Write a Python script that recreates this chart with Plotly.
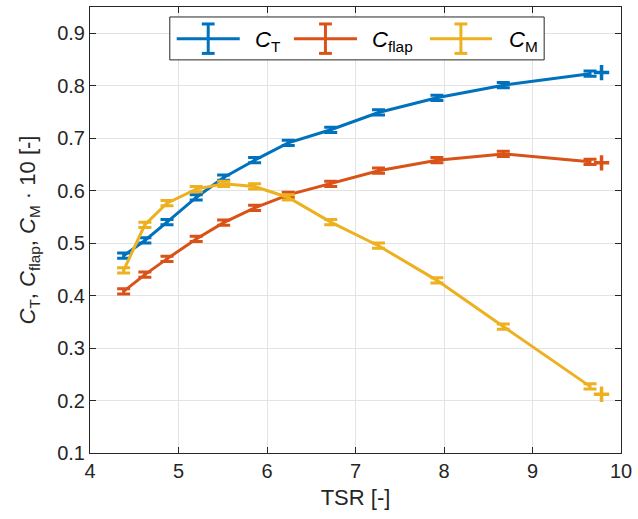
import plotly.graph_objects as go

# ---------------- data ----------------
tsr = [4.38, 4.62, 4.87, 5.20, 5.51, 5.86, 6.24, 6.72, 7.26, 7.92, 8.67, 9.65]
ct = [0.476, 0.505, 0.540, 0.587, 0.625, 0.658, 0.691, 0.716, 0.749, 0.777, 0.801, 0.823]
cflap = [0.408, 0.440, 0.470, 0.508, 0.539, 0.567, 0.592, 0.613, 0.638, 0.658, 0.670, 0.655]
cm10 = [0.448, 0.535, 0.576, 0.603, 0.613, 0.608, 0.587, 0.540, 0.495, 0.429, 0.341, 0.227]
ct_err = [0.005] * 12
cflap_err = [0.005] * 12
cm10_err = [0.005] * 12

# single extra points (+ markers)
tsr_plus = [9.78]
ct_plus = [0.825]
cflap_plus = [0.653]
cm10_plus = [0.212]

series_names = ["<i>C</i><sub>T</sub>", "<i>C</i><sub>flap</sub>", "<i>C</i><sub>M</sub>"]
colors = ["#0072BD", "#D95319", "#EDB120"]

xticks = [4, 5, 6, 7, 8, 9, 10]
yticks = [0.1, 0.2, 0.3, 0.4, 0.5, 0.6, 0.7, 0.8, 0.9]

FONT = "Liberation Sans, Arial, Helvetica, sans-serif"
TXT = "#262626"

W, H = 638, 519
L, R, T, B = 90, 9, 6, 66
pw, ph = W - L - R, H - T - B


def px(x):
    return (x - L) / pw


def py(y):
    return (H - B - y) / ph


fig = go.Figure()
for ys, err, col, yp in zip([ct, cflap, cm10], [ct_err, cflap_err, cm10_err], colors,
                            [ct_plus, cflap_plus, cm10_plus]):
    fig.add_trace(go.Scatter(
        x=tsr, y=ys, mode="lines",
        line=dict(color=col, width=3),
        error_y=dict(type="data", array=err, visible=True, color=col, thickness=3, width=6.5),
        showlegend=False, hoverinfo="x+y",
    ))
    fig.add_trace(go.Scatter(
        x=tsr_plus, y=yp, mode="markers",
        marker=dict(symbol="cross-thin", size=11, line=dict(color=col, width=3.5)),
        showlegend=False,
    ))

# ---------------- manual legend (MATLAB-style errorbar icons) ----------------
shapes = []
annotations = []
shapes.append(dict(type="rect", xref="paper", yref="paper",
                   x0=px(171), x1=px(551), y0=py(59), y1=py(16),
                   line=dict(color=TXT, width=1), fillcolor="white", layer="above"))
item_line = [(178, 242), (297, 361), (435, 498)]
item_text_x = [255, 374, 513]
yc = 37.7
for (a, b), tx, col, name in zip(item_line, item_text_x, colors, series_names):
    mid = (a + b) / 2
    shapes.append(dict(type="line", xref="paper", yref="paper", x0=px(a), x1=px(b),
                       y0=py(yc), y1=py(yc), line=dict(color=col, width=3), layer="above"))
    shapes.append(dict(type="line", xref="paper", yref="paper", x0=px(mid), x1=px(mid),
                       y0=py(23), y1=py(52.5), line=dict(color=col, width=3), layer="above"))
    for yy in (23, 52.5):
        shapes.append(dict(type="line", xref="paper", yref="paper", x0=px(mid - 6.5), x1=px(mid + 6.5),
                           y0=py(yy), y1=py(yy), line=dict(color=col, width=3), layer="above"))
    annotations.append(dict(xref="paper", yref="paper", x=px(tx), y=py(40), xanchor="left",
                            yanchor="middle", text=name, showarrow=False,
                            font=dict(family=FONT, size=22, color="black")))

axis_common = dict(
    showline=True, linecolor=TXT, linewidth=1, mirror="ticks",
    ticks="inside", ticklen=6, tickcolor=TXT, tickwidth=1,
    showgrid=True, gridcolor="#e3e3e3", gridwidth=1, zeroline=False,
    tickfont=dict(family=FONT, size=20, color=TXT),
    ticklabeloverflow="allow",
)

fig.update_layout(
    width=W, height=H,
    margin=dict(l=L, r=R, t=T, b=B),
    paper_bgcolor="white", plot_bgcolor="white",
    showlegend=False,
    shapes=shapes, annotations=annotations,
    xaxis=dict(range=[4, 10], tickvals=xticks, ticktext=[str(v) for v in xticks],
               title=dict(text="TSR [-]", font=dict(family=FONT, size=22, color=TXT), standoff=8),
               **axis_common),
    yaxis=dict(range=[0.1, 0.95], tickvals=yticks, ticktext=[f"{v:.1f}" for v in yticks],
               title=dict(text="<i>C</i><sub>T</sub>, <i>C</i><sub>flap</sub>, <i>C</i><sub>M</sub> · 10 [-]",
                          font=dict(family=FONT, size=22, color=TXT), standoff=15),
               **axis_common),
)

fig.write_html("out.html", config={"displayModeBar": False},
               post_script="document.body.style.margin='0';")
